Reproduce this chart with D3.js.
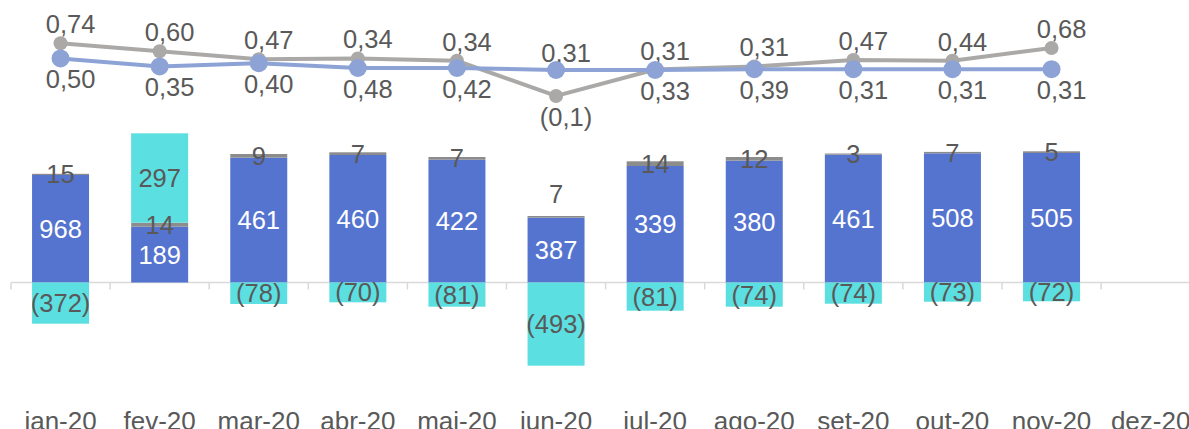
<!DOCTYPE html>
<html>
<head>
<meta charset="utf-8">
<script src="https://cdn.jsdelivr.net/npm/d3@7"></script>
<style>
  body { margin: 0; background: #fff; }
  svg { display: block; font-family: "Liberation Sans", Arial, sans-serif; }
</style>
</head>
<body>
<div id="chart"></div>
<script>
// categories
var months = ["jan-20", "fev-20", "mar-20", "abr-20", "mai-20", "jun-20",
              "jul-20", "ago-20", "set-20", "out-20", "nov-20", "dez-20"];

// bar heights as drawn (chart units) and the labels shown on them
var blueVals  = [107.5, 55.8, 124.8, 127.5, 122.8, 64.8, 116.5, 121.8, 127.8, 129.2, 129.5];
var blueLbls  = ["968", "189", "461", "460", "422", "387", "339", "380", "461", "508", "505"];
var grayVals  = [1.2, 4, 3.7, 2.7, 2.7, 1.7, 4.7, 3.7, 1.2, 1.4, 1.7];
var grayLbls  = ["15", "14", "9", "7", "7", "7", "14", "12", "3", "7", "5"];
var cyanVals  = [-41.2, 89.4, -21.5, -19.8, -24.2, -83.2, -28.2, -24.2, -21.2, -19.2, -18.8];
var cyanLbls  = ["(372)", "297", "(78)", "(70)", "(81)", "(493)", "(81)", "(74)", "(74)", "(73)", "(72)"];
var grayOutside = ["jun-20"];

// the two ratio lines, position as drawn and label shown
var lineGrayVals = [0.71, 0.61, 0.51, 0.52, 0.49, 0.05, 0.38, 0.42, 0.50, 0.49, 0.65];
var lineGrayLbls = ["0,74", "0,60", "0,47", "0,34", "0,34", "(0,1)", "0,31", "0,31", "0,47", "0,44", "0,68"];
var lineBlueVals = [0.52, 0.42, 0.46, 0.40, 0.40, 0.375, 0.375, 0.385, 0.385, 0.385, 0.385];
var lineBlueLbls = ["0,50", "0,35", "0,40", "0,48", "0,42", "0,31", "0,33", "0,39", "0,31", "0,31", "0,31"];
var flipped = ["jun-20"]; // gray label below, blue label above

var width = 1189, height = 429;
var txtColor = "#595959";
var fs = 25.5;

var svg = d3.select("#chart").append("svg")
    .attr("width", width)
    .attr("height", height);

var x = d3.scaleBand().domain(months).range([11, 11 + 99.1 * 12]).paddingInner(0.425).paddingOuter(0.2125);
var y = d3.scaleLinear().domain([0, 100]).range([282.5, 182.5]);
var y2 = d3.scaleLinear().domain([0, 1]).range([100, 20]);
var cx = function(m) { return x(m) + x.bandwidth() / 2; };

var rows = blueVals.map(function(v, i) {
  return {m: months[i], blue: v, gray: grayVals[i], cyan: cyanVals[i],
          bl: blueLbls[i], gl: grayLbls[i], cl: cyanLbls[i]};
});

// axis line + ticks at category boundaries
var axisG = svg.append("g");
axisG.append("line")
    .attr("x1", 11).attr("x2", width)
    .attr("y1", y(0)).attr("y2", y(0))
    .attr("stroke", "#D9D9D9").attr("stroke-width", 1.5);
axisG.selectAll(".tk")
    .data(d3.range(13))
  .enter().append("line")
    .attr("x1", d => 11 + d * 99.1).attr("x2", d => 11 + d * 99.1)
    .attr("y1", y(0)).attr("y2", y(0) + 7)
    .attr("stroke", "#D9D9D9").attr("stroke-width", 1.5);

// bars
var bars = svg.append("g");
bars.selectAll(".blue")
    .data(rows)
  .enter().append("rect")
    .attr("x", d => x(d.m))
    .attr("width", x.bandwidth())
    .attr("y", d => y(d.blue))
    .attr("height", d => y(0) - y(d.blue))
    .attr("fill", "#5574CF");

bars.selectAll(".gray")
    .data(rows)
  .enter().append("rect")
    .attr("x", d => x(d.m))
    .attr("width", x.bandwidth())
    .attr("y", d => y(d.blue + d.gray))
    .attr("height", d => y(d.blue) - y(d.blue + d.gray))
    .attr("fill", "#8C8C8C");

bars.selectAll(".cyan")
    .data(rows)
  .enter().append("rect")
    .attr("x", d => x(d.m))
    .attr("width", x.bandwidth())
    .attr("y", d => d.cyan > 0 ? y(d.blue + d.gray + d.cyan) : y(0))
    .attr("height", d => Math.abs(y(0) - y(d.cyan)))
    .attr("fill", "#5CDFE0");

// bar labels
var lbl = svg.append("g").attr("font-size", fs).attr("text-anchor", "middle");
lbl.selectAll(".bl")
    .data(rows)
  .enter().append("text")
    .attr("x", d => cx(d.m))
    .attr("y", d => (y(0) + y(d.blue)) / 2)
    .attr("dy", "0.35em")
    .attr("fill", "#fff")
    .text(d => d.bl);

lbl.selectAll(".gl")
    .data(rows)
  .enter().append("text")
    .attr("x", d => cx(d.m))
    .attr("y", function(d) {
      if (grayOutside.indexOf(d.m) >= 0) return y(d.blue + d.gray) - 13;
      return (y(d.blue) + y(d.blue + d.gray)) / 2;
    })
    .attr("dy", d => grayOutside.indexOf(d.m) >= 0 ? 0 : "0.35em")
    .attr("fill", txtColor)
    .text(d => d.gl);

lbl.selectAll(".cl")
    .data(rows)
  .enter().append("text")
    .attr("x", d => cx(d.m))
    .attr("y", function(d) {
      if (d.cyan > 0) return (y(d.blue + d.gray) + y(d.blue + d.gray + d.cyan)) / 2;
      return (y(0) + y(d.cyan)) / 2;
    })
    .attr("dy", "0.35em")
    .attr("fill", txtColor)
    .text(d => d.cl);

// lines
var line = d3.line()
    .x(d => cx(d.m))
    .y(d => y2(d.v));

var grayPts = lineGrayVals.map((v, i) => ({m: months[i], v: v, l: lineGrayLbls[i]}));
var bluePts = lineBlueVals.map((v, i) => ({m: months[i], v: v, l: lineBlueLbls[i]}));

svg.append("path")
    .datum(grayPts)
    .attr("d", line)
    .attr("fill", "none")
    .attr("stroke", "#ABA9A8")
    .attr("stroke-width", 4);
svg.selectAll(".gdot")
    .data(grayPts)
  .enter().append("circle")
    .attr("cx", d => cx(d.m))
    .attr("cy", d => y2(d.v))
    .attr("r", 7)
    .attr("fill", "#ABA9A8");

svg.append("path")
    .datum(bluePts)
    .attr("d", line)
    .attr("fill", "none")
    .attr("stroke", "#8DA3D6")
    .attr("stroke-width", 4);
svg.selectAll(".bdot")
    .data(bluePts)
  .enter().append("circle")
    .attr("cx", d => cx(d.m))
    .attr("cy", d => y2(d.v))
    .attr("r", 9)
    .attr("fill", "#8DA3D6");

// line labels: gray above, blue below (swapped where flagged)
function isFlip(m) { return flipped.indexOf(m) >= 0; }
lbl.selectAll(".glbl")
    .data(grayPts)
  .enter().append("text")
    .attr("x", d => cx(d.m) + 10)
    .attr("y", d => isFlip(d.m) ? y2(d.v) + 30 : y2(d.v) - 10)
    .attr("fill", txtColor)
    .text(d => d.l);
lbl.selectAll(".blbl")
    .data(bluePts)
  .enter().append("text")
    .attr("x", d => cx(d.m) + 10)
    .attr("y", d => isFlip(d.m) ? y2(d.v) - 8 : y2(d.v) + 30)
    .attr("fill", txtColor)
    .text(d => d.l);

// x labels
svg.append("g")
    .attr("font-size", 26)
    .attr("text-anchor", "middle")
    .attr("fill", txtColor)
  .selectAll("text")
    .data(months)
  .enter().append("text")
    .attr("x", d => cx(d))
    .attr("y", 430)
    .text(d => d);
</script>
</body>
</html>
